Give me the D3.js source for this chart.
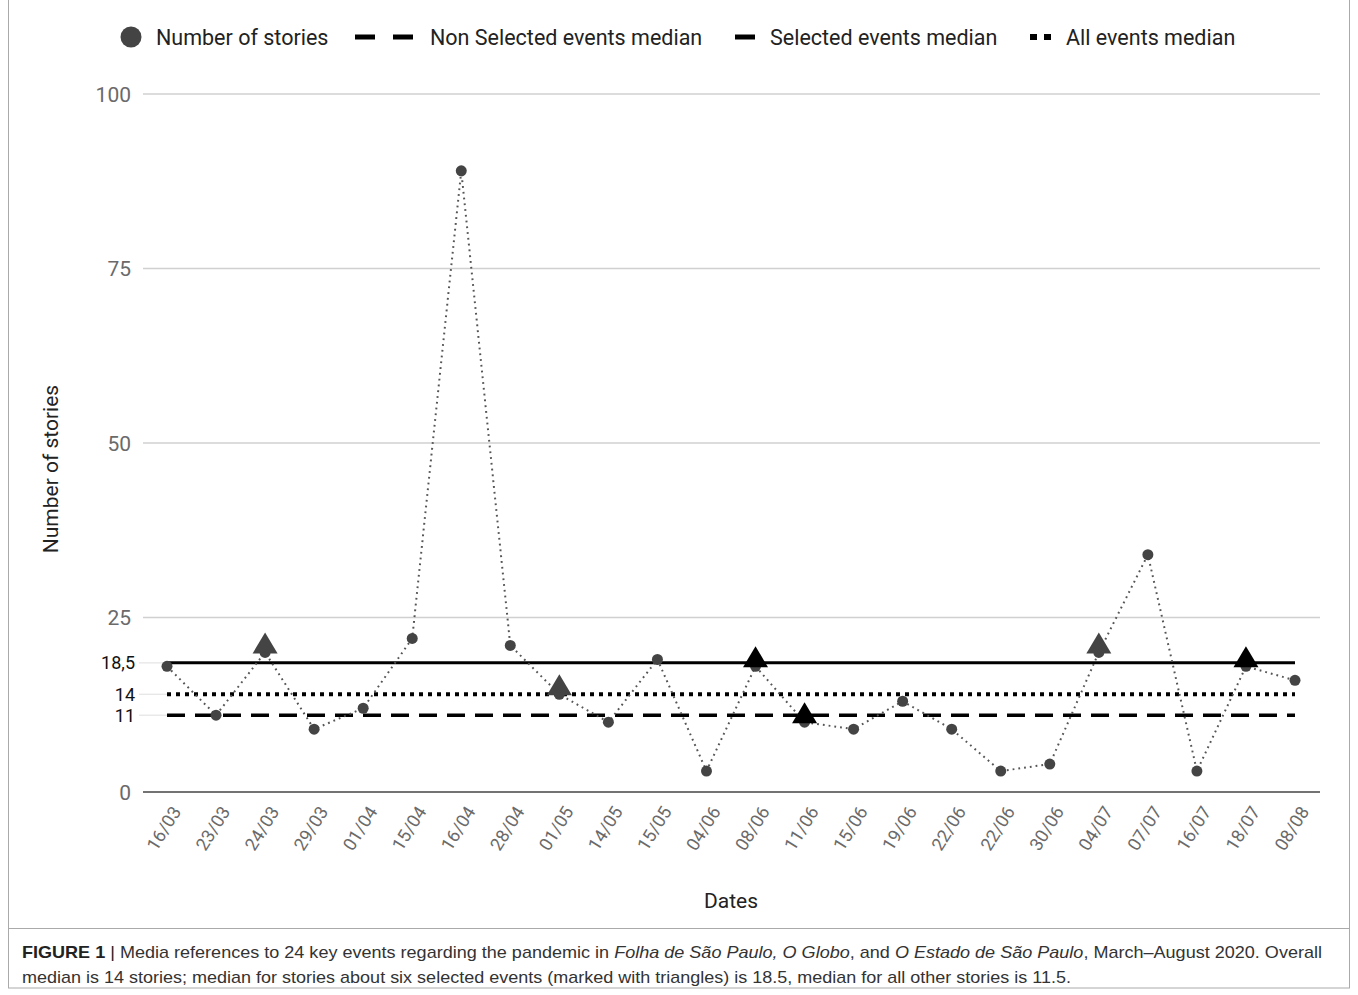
<!DOCTYPE html>
<html><head><meta charset="utf-8">
<script src="https://cdn.jsdelivr.net/npm/d3@7"></script>
<style>body{margin:0;background:#fff;} svg{display:block;}</style>
</head><body>
<svg id="c" width="1358" height="995"></svg>
<script>
const dates = ["16/03","23/03","24/03","29/03","01/04","15/04","16/04","28/04","01/05","14/05","15/05","04/06","08/06","11/06","15/06","19/06","22/06","22/06","30/06","04/07","07/07","16/07","18/07","08/08"];
const stories = [18,11,20,9,12,22,89,21,14,10,19,3,18,10,9,13,9,3,4,20,34,3,18,16];
const selectedGray = [2,8,19];
const selectedBlack = [12,13,22];
const yTicks = [0,25,50,75,100];
const medianTicks = [18.5,14,11];
const medianLabels = ["18,5","14","11"];
const medians = {selected:18.5, all:14, nonSelected:11};

const svg = d3.select("#c");
const font = "Roboto, 'Liberation Sans', sans-serif";
const x = d3.scalePoint().domain(d3.range(dates.length)).range([167,1295]);
const y = d3.scaleLinear().domain([0,100]).range([792,94]);

// frame
svg.append("rect").attr("x",8.5).attr("y",-2).attr("width",1341).attr("height",990)
  .attr("fill","none").attr("stroke","#aaa").attr("stroke-width",1);
svg.append("line").attr("x1",8.5).attr("x2",1349.5).attr("y1",928.5).attr("y2",928.5).attr("stroke","#aaa");

// gridlines
svg.append("g").selectAll("line").data(yTicks.filter(d=>d>0)).join("line")
  .attr("x1",143).attr("x2",1320).attr("y1",d=>y(d)).attr("y2",d=>y(d))
  .attr("stroke","#d0d0d0").attr("stroke-width",1.3);
svg.append("g").selectAll("line").data(medianTicks).join("line")
  .attr("x1",139).attr("x2",167).attr("y1",d=>y(d)).attr("y2",d=>y(d))
  .attr("stroke","#e6e6e6").attr("stroke-width",1.3);
// y tick labels
svg.append("g").selectAll("text").data(yTicks).join("text")
  .attr("x",131).attr("y",d=>y(d)).attr("dy","0.36em").attr("text-anchor","end")
  .attr("font-family",font).attr("font-size",21).attr("fill","#6a6a6a").text(d=>d);
svg.append("g").selectAll("text").data(medianTicks).join("text")
  .attr("x",135).attr("y",d=>y(d)).attr("dy","0.36em").attr("text-anchor","end")
  .attr("font-family",font).attr("font-size",18).attr("fill","#111").text((d,i)=>medianLabels[i]);
// zero axis line
svg.append("line").attr("x1",143).attr("x2",1320).attr("y1",y(0)).attr("y2",y(0))
  .attr("stroke","#444").attr("stroke-width",1.6);

// x labels
const xAxis = d3.axisBottom(x).tickFormat(i=>dates[i]).tickSize(0);
const gx = svg.append("g").attr("transform",`translate(0,${y(0)})`).call(xAxis);
gx.select(".domain").remove();
gx.selectAll("text").attr("font-family",font).attr("font-size",18).attr("fill","#6a6a6a")
  .attr("text-anchor","end").attr("y",0).attr("dy","0.35em")
  .attr("transform","translate(9,16) rotate(-58)");

// axis titles
svg.append("text").attr("transform","translate(58,469) rotate(-90)").attr("text-anchor","middle")
  .attr("font-family",font).attr("font-size",21).attr("fill","#222").text("Number of stories");
svg.append("text").attr("x",731).attr("y",908).attr("text-anchor","middle")
  .attr("font-family",font).attr("font-size",21).attr("fill","#222").text("Dates");

// median lines
const x0 = x(0), x1 = x(dates.length-1);
svg.append("line").attr("x1",x0).attr("x2",x1).attr("y1",y(medians.selected)).attr("y2",y(medians.selected))
  .attr("stroke","#000").attr("stroke-width",3);
svg.append("line").attr("x1",x0).attr("x2",x1).attr("y1",y(medians.all)).attr("y2",y(medians.all))
  .attr("stroke","#000").attr("stroke-width",4).attr("stroke-dasharray","4,5");
svg.append("line").attr("x1",x0).attr("x2",x1).attr("y1",y(medians.nonSelected)).attr("y2",y(medians.nonSelected))
  .attr("stroke","#000").attr("stroke-width",3.5).attr("stroke-dasharray","18,10");

// series line
const line = d3.line().x((d,i)=>x(i)).y(d=>y(d));
svg.append("path").datum(stories).attr("d",line).attr("fill","none")
  .attr("stroke","#555").attr("stroke-width",2).attr("stroke-dasharray","1.8,4");
// dots
svg.append("g").selectAll("circle").data(stories).join("circle")
  .attr("cx",(d,i)=>x(i)).attr("cy",d=>y(d)).attr("r",5.5).attr("fill","#444");
// triangles
const tri = (i,color)=>{
  const cx = x(i), base = y(stories[i])+1, h = 21, w = 25;
  svg.append("path").attr("d",`M${cx},${base-h}L${cx+w/2},${base}L${cx-w/2},${base}Z`).attr("fill",color);
};
selectedGray.forEach(i=>tri(i,"#444"));
selectedBlack.forEach(i=>tri(i,"#000"));

// legend
const lg = svg.append("g").attr("font-family",font).attr("font-size",21.5).attr("fill","#222");
lg.append("circle").attr("cx",131).attr("cy",37).attr("r",10.5).attr("fill","#444");
lg.append("text").attr("x",156).attr("y",37).attr("dy","0.36em").text("Number of stories");
lg.append("line").attr("x1",355).attr("x2",413).attr("y1",37).attr("y2",37).attr("stroke","#000").attr("stroke-width",5).attr("stroke-dasharray","20,18");
lg.append("text").attr("x",430).attr("y",37).attr("dy","0.36em").text("Non Selected events median");
lg.append("line").attr("x1",735).attr("x2",755).attr("y1",37).attr("y2",37).attr("stroke","#000").attr("stroke-width",5);
lg.append("text").attr("x",770).attr("y",37).attr("dy","0.36em").text("Selected events median");
lg.append("line").attr("x1",1030).attr("x2",1052).attr("y1",37).attr("y2",37).attr("stroke","#000").attr("stroke-width",6).attr("stroke-dasharray","7,7");
lg.append("text").attr("x",1066).attr("y",37).attr("dy","0.36em").text("All events median");

// caption
const capFont = "'Liberation Sans Narrow', 'Liberation Sans', Arial, sans-serif";
const c1 = svg.append("text").attr("x",22).attr("y",958).attr("font-family",capFont).attr("font-size",17).attr("fill","#333")
  .attr("textLength",1300).attr("lengthAdjust","spacingAndGlyphs");
c1.append("tspan").attr("font-weight","bold").attr("fill","#222").text("FIGURE 1");
c1.append("tspan").attr("fill","#222").text(" | ");
c1.append("tspan").text("Media references to 24 key events regarding the pandemic in ");
c1.append("tspan").attr("font-style","italic").text("Folha de São Paulo, O Globo");
c1.append("tspan").text(", and ");
c1.append("tspan").attr("font-style","italic").text("O Estado de São Paulo");
c1.append("tspan").text(", March–August 2020. Overall");
svg.append("text").attr("x",22).attr("y",983).attr("font-family",capFont).attr("font-size",17).attr("fill","#333")
  .attr("textLength",1049).attr("lengthAdjust","spacingAndGlyphs")
  .text("median is 14 stories; median for stories about six selected events (marked with triangles) is 18.5, median for all other stories is 11.5.");
</script>
</body></html>
